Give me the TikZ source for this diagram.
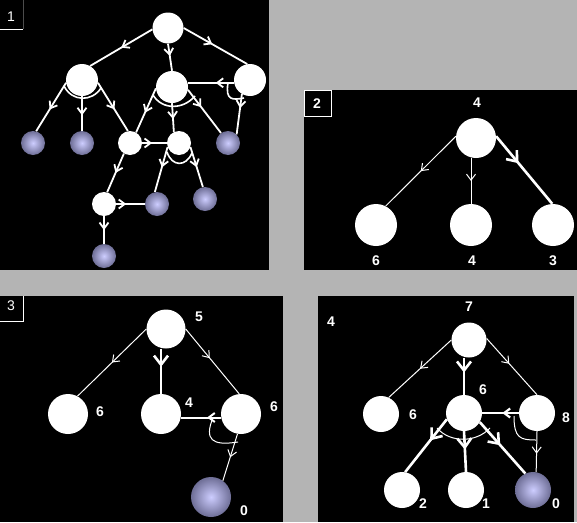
\documentclass[tikz,border=0pt]{standalone}
\usepackage{fontspec}
\setmainfont{Liberation Sans}
\usetikzlibrary{arrows.meta,decorations.markings}
\definecolor{bggray}{RGB}{180,180,180}
\definecolor{ballin}{RGB}{205,205,255}
\definecolor{ballout}{RGB}{110,110,150}
\begin{document}
\begin{tikzpicture}[x=1pt,y=-1pt,
 wn/.style={circle,fill=white,inner sep=0pt,minimum size=#1},
 pn/.style={circle,inner sep=0pt,minimum size=#1,inner color=ballin,outer color=ballout},
 lbl/.style={text=white,font=\fontsize{14}{14}\selectfont\bfseries,inner sep=0pt},
 plbl/.style={text=white,font=\fontsize{14}{14}\selectfont,inner sep=0pt},
 e1/.style={draw=white,line width=1.8pt},
 e0/.style={draw=white,line width=1pt},
 ek/.style={draw=white,line width=2.6pt},
 ma/.style={postaction={decorate},decoration={markings,mark=at position #1 with {\arrow{Straight Barb[length=6pt,width=9pt]}}}},
 mb/.style={postaction={decorate},decoration={markings,mark=at position #1 with {\arrow{Straight Barb[length=9pt,width=14pt]}}}},
]
\useasboundingbox (0,0) rectangle (577,522);
\fill[bggray] (0,0) rectangle (577,522);
\fill[black] (0,0) rectangle (269,270);
\fill[black] (304,90) rectangle (577,270);
\fill[black] (0,296) rectangle (283,522);
\fill[black] (318,296) rectangle (574,522);

% ---------- panel 1 ----------
\draw[white,line width=1pt] (0,29) -- (23,29);
\draw[gray!60!black,line width=0.8pt] (23,0) -- (23,29);
\node[plbl] (t1) at (11,17) {1};
\node[wn=31pt] (A) at (168,28) {};
\node[wn=32pt] (B) at (82,80) {};
\node[wn=32pt] (C) at (172,87) {};
\node[wn=32pt] (D) at (250,80) {};
\node[pn=24pt] (L1) at (33,143) {};
\node[pn=24pt] (L2) at (82,143) {};
\node[wn=24pt] (E) at (130,143) {};
\node[wn=24pt] (F) at (179,143) {};
\node[pn=24pt] (L3) at (228,143) {};
\node[wn=24pt] (G) at (104,204) {};
\node[pn=24pt] (L4) at (157,204) {};
\node[pn=24pt] (L5) at (205,199) {};
\node[pn=24pt] (L6) at (104,256) {};
\draw[e1,ma=0.5] (A.185) -- (B.60);
\draw[e1,ma=0.45] (A.south) -- (C.north);
\draw[e1,ma=0.45] (A.0) -- (D.100);
\draw[e1,ma=0.55] (B.190) -- (L1.75);
\draw[e1,ma=0.55] (B.south) -- (L2.north);
\draw[e1,ma=0.55] (B.350) -- (E.100);
\draw[e1,ma=0.55] (C.185) -- (E.60);
\draw[e1,ma=0.55] (C.south) -- (F.115);
\draw[e1,ma=0.4] (C.350) -- (L3.125);
\draw[e1,ma=0.4] (D.190) -- (C.east |- D.190);
\draw[e1,ma=0.35] (D.240) -- (L3.45);
\draw[e1,ma=0.4] (E.east) -- (F.west);
\draw[e1,ma=0.5] (E.240) -- (G.75);
\draw[e1,ma=0.45] (F.200) -- (L4.100);
\draw[e1,ma=0.5] (F.340) -- (L5.100);
\draw[e1,ma=0.35] (G.east) -- (L4.west);
\draw[e1,ma=0.5] (G.south) -- (L6.north);
\draw[white,line width=1.6pt] (64,86) .. controls (72,102) and (92,102) .. (101,88);
\draw[white,line width=1.6pt] (153,95) .. controls (162,110) and (183,110) .. (195,96);
\draw[white,line width=1.6pt] (167,152) .. controls (172,167) and (186,167) .. (192,153);
\draw[white,line width=1.6pt] (228,82.8) .. controls (225,101) and (233,100) .. (244,98);

% ---------- panel 2 ----------
\draw[white,line width=1pt] (304.5,90.5) rectangle (331,116);
\node[lbl] (t2) at (317,104) {2};
\node[wn=40pt] (R2) at (476,138) {};
\node[wn=42pt] (L2a) at (376,225) {};
\node[wn=42pt] (M2) at (471,225) {};
\node[wn=42pt] (Q2) at (553,225) {};
\node[lbl] (n2a) at (477,103) {4};
\node[lbl] (n2b) at (376,261) {6};
\node[lbl] (n2c) at (472,261) {4};
\node[lbl] (n2d) at (553,261) {3};
\draw[e0,ma=0.5] (R2.175) -- (L2a.63);
\draw[e0,ma=0.5] (M2.north |- R2.south) -- (M2.north);
\draw[ek,mb=0.4] (R2.5) -- (Q2.92);

% ---------- panel 3 ----------
\draw[white,line width=1pt] (23,296) -- (23,321) -- (0,321);
\node[plbl] (t3) at (11,306) {3};
\node[wn=39pt] (R3) at (166,329) {};
\node[wn=40pt] (L3a) at (68,414) {};
\node[wn=40pt] (M3) at (161,414) {};
\node[wn=40pt] (Q3) at (241,414) {};
\node[pn=40pt] (P3) at (211,497) {};
\node[lbl] (n3a) at (199,317) {5};
\node[lbl] (n3b) at (100,412) {6};
\node[lbl] (n3c) at (189,403) {4};
\node[lbl] (n3d) at (274,407) {6};
\node[lbl] (n3e) at (244,511) {0};
\draw[e0,ma=0.5] (R3.180) -- (L3a.62);
\draw[ek,mb=0.4] (M3.north |- R3.south) -- (M3.north);
\draw[e0,ma=0.45] (R3.0) -- (Q3.95);
\draw[ek,line width=2pt,ma=0.35] (Q3.190) -- (M3.east |- Q3.190);
\draw[e0,ma=0.5] (Q3.260) -- (P3.54);
\draw[white,line width=1pt] (213,417.5) .. controls (204,440) and (212,446) .. (238,442);

% ---------- panel 4 ----------
\node[lbl] (t4) at (331,322) {4};
\node[wn=35pt] (R4) at (469,340) {};
\node[wn=36pt] (L4a) at (381,414) {};
\node[wn=36pt] (M4) at (464,413) {};
\node[wn=36pt] (Q4) at (537,413) {};
\node[wn=36pt] (B4a) at (402,490) {};
\node[wn=36pt] (B4b) at (466,490) {};
\node[pn=36pt] (B4c) at (533,490) {};
\node[lbl] (n4a) at (469,307) {7};
\node[lbl] (n4b) at (413,415) {6};
\node[lbl] (n4c) at (483,390) {6};
\node[lbl] (n4d) at (566,418) {8};
\node[lbl] (n4e) at (423,504) {2};
\node[lbl] (n4f) at (486,504) {1};
\node[lbl] (n4g) at (556,504) {0};
\draw[e0,ma=0.5] (R4.180) -- (L4a.65);
\draw[ek,mb=0.4] (M4.north |- R4.south) -- (M4.north);
\draw[e0,ma=0.45] (R4.5) -- (Q4.north);
\draw[ek,line width=2.2pt,ma=0.45] (Q4.west) -- (M4.east |- Q4.west);
\draw[e0,ma=0.55] (Q4.south) -- (B4c.80);
\draw[white,line width=1pt] (514,416) .. controls (514,438) and (520,440) .. (536,440);
\draw[ek,mb=0.4] (M4.200) -- (B4a.80);
\draw[ek,mb=0.45] (M4.south) -- (B4b.north);
\draw[ek,mb=0.45] (M4.330) -- (B4c.115);
\draw[white,line width=1pt] (437,428) .. controls (450,443) and (476,443) .. (490,428);
\end{tikzpicture}
\end{document}
